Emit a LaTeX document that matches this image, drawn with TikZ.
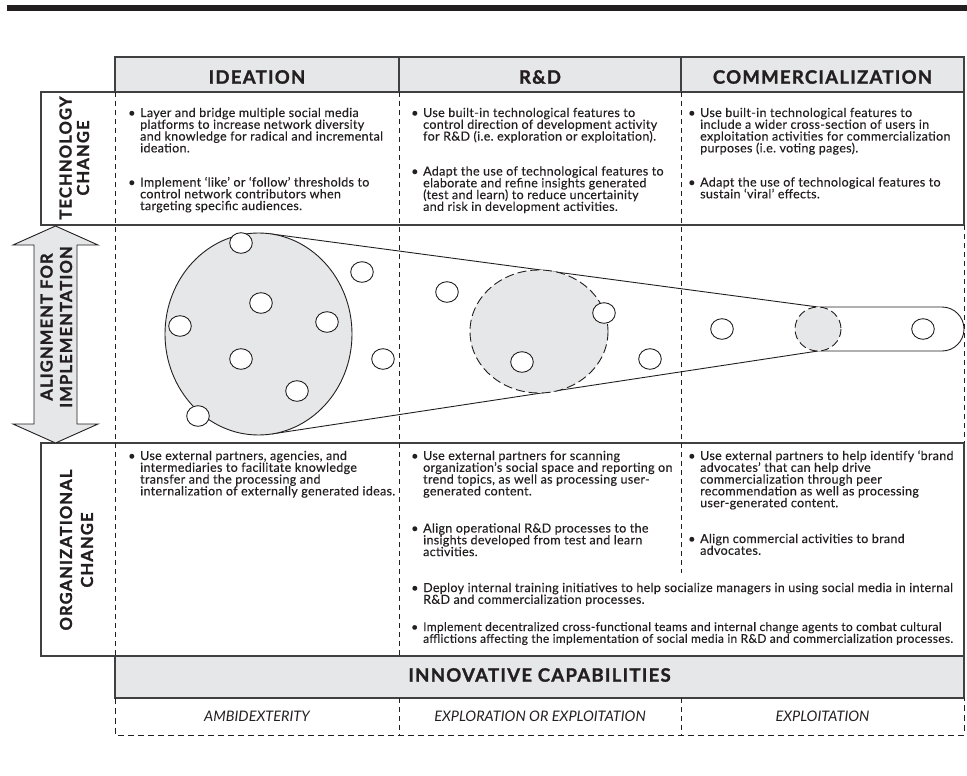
\documentclass[tikz,border=0pt]{standalone}
\usepackage{fontspec}
\setmainfont{Lato}
\newfontfamily\headfont[LetterSpace=7, BoldFeatures={FakeBold=1.4}]{Lato}
\newfontfamily\bodyfam[LetterSpace=2.5, FakeBold=0.3]{Lato}

\definecolor{panel}{HTML}{E6E7E8}
\definecolor{ink}{HTML}{231F20}
\definecolor{rulecol}{HTML}{404040}

% body text: fixed line pitch, lines broken by hand
\newcommand\bodyfont{\bodyfam\fontsize{12.5}{11.8}\selectfont}
\newcommand\linestack[1]{\vtop{\baselineskip=11.8pt\lineskiplimit=-100pt\lineskip=0pt
  \let\\\cr\halign{##\hfil\cr#1\crcr}}}
\newcommand\bitem[1]{\hbox{\hbox to 12pt{\textbullet\hfil}\linestack{#1}}}

\tikzset{
  frame/.style={draw=rulecol, line width=1.3pt},
  dashrule/.style={draw=ink, line width=0.9pt, dash pattern=on 5pt off 4pt},
  thinline/.style={draw=ink, line width=0.9pt},
  txt/.style={anchor=base west, inner sep=0pt, font=\bodyfont, text=ink},
  head/.style={inner sep=0pt, text=ink, font=\headfont\bfseries\fontsize{18.5}{20}\selectfont},
  side/.style={inner sep=0pt, text=ink, align=center, rotate=90},
  captext/.style={inner sep=0pt, text=ink, font=\itshape\fontsize{14.5}{16}\selectfont},
  dot/.style={thinline, fill=white},
}

\begin{document}
\begin{tikzpicture}[x=1pt, y=-1pt]
\useasboundingbox (0,0) rectangle (967,776);

% heavy rule across the top
\fill[ink] (7,5) rectangle (967,11);

% column headers
\draw[frame, fill=panel] (115,57) rectangle (964,92);
\draw[frame] (399,57) -- (399,92) (681,57) -- (681,92);
\node[head] (hideation) at (257,77) {IDEATION};
\node[head] (hrd) at (540,77) {R\&D};
\node[head] (hcomm) at (822.5,77) {COMMERCIALIZATION};

% row frames
\draw[frame] (41,92) rectangle (964,225);
\draw[frame] (41,443) rectangle (964,656);

% dashed column rules
\draw[dashrule] (115,92) -- (115,656);
\draw[dashrule] (399,92) -- (399,656);
\draw[dashrule] (681,92) -- (681,573);
\draw[dashrule] (964,225) -- (964,443);

% capabilities band
\draw[frame, fill=panel] (115,656) rectangle (964,698);
\node[head] (hcap) at (539.5,675) {INNOVATIVE CAPABILITIES};
\draw[dashrule, dash pattern=on 6pt off 4pt] (115,698) -- (115,735) -- (964,735) -- (964,698);
\draw[dashrule] (399,698) -- (399,735) (681,698) -- (681,735);
\node[captext] (amb) at (257,716) {AMBIDEXTERITY};
\node[captext] (eoe) at (540,716) {EXPLORATION OR EXPLOITATION};
\node[captext] (expl) at (822.5,716) {EXPLOITATION};

% row labels
\node[side, font=\headfont\bfseries\fontsize{16.5}{17.5}\selectfont] (ltech) at (74.3,158) {TECHNOLOGY\\CHANGE};
\node[side, font=\headfont\bfseries\fontsize{16.5}{21}\selectfont] (lorg) at (76.5,550) {ORGANIZATIONAL\\CHANGE};

% double-headed alignment arrow
\draw[thinline, fill=panel] (55.5,226) -- (98,245) -- (77,245) -- (77,424) -- (98,424)
  -- (55.5,443) -- (13,424) -- (34,424) -- (34,245) -- (13,245) -- cycle;
\node[side, font=\headfont\bfseries\fontsize{16.5}{19.5}\selectfont] (lalign) at (56.3,327) {ALIGNMENT FOR\\IMPLEMENTATION};

% funnel narrowing from ideation to commercialization
\draw[thinline] (270,233.8) -- (818,307) -- (942,307)
  arc[start angle=-90, end angle=90, radius=22] -- (818,351) -- (271.5,434);
\draw[thinline, fill=panel] (258.5,334) ellipse [x radius=93.5, y radius=101];
\draw[thinline, fill=panel, dash pattern=on 9pt off 4pt] (539,331.5) ellipse [x radius=69, y radius=61.5];
\draw[thinline, fill=panel, dash pattern=on 8pt off 4pt] (818,329) ellipse [x radius=23, y radius=22];

% individual contributors
\foreach \p in {(241,243),(261,303),(180,326),(327,322),(241,359),(297,391),(198,416),
                (362,272),(383,359),(447,292),(604,313),(522,362),(650,359),(722,329),(923,329)}
  \draw[dot] \p ellipse [x radius=11.3, y radius=10.3];

% technology change
\node[txt] (t11) at (128,117) {\bitem{Layer and bridge multiple social media\\
platforms to increase network diversity\\
and knowledge for radical and incremental\\
ideation.}};
\node[txt] (t12) at (128,186.5) {\bitem{Implement ‘like’ or ‘follow’ thresholds to\\
control network contributors when\\
targeting specific audiences.}};
\node[txt] (t21) at (411,117) {\bitem{Use built-in technological features to\\
control direction of development activity\\
for R\&D (i.e.\ exploration or exploitation).}};
\node[txt] (t22) at (411,175.5) {\bitem{Adapt the use of technological features to\\
elaborate and refine insights generated\\
(test and learn) to reduce uncertainity\\
and risk in development activities.}};
\node[txt] (t31) at (688,117) {\bitem{Use built-in technological features to\\
include a wider cross-section of users in\\
exploitation activities for commercialization\\
purposes (i.e.\ voting pages).}};
\node[txt] (t32) at (688,186.5) {\bitem{Adapt the use of technological features to\\
sustain ‘viral’ effects.}};

% organizational change
\node[txt] (o11) at (128,460) {\bitem{Use external partners, agencies, and\\
intermediaries to facilitate knowledge\\
transfer and the processing and\\
internalization of externally generated ideas.}};
\node[txt] (o21) at (411,460) {\bitem{Use external partners for scanning\\
organization’s social space and reporting on\\
trend topics, as well as processing user-\\
generated content.}};
\node[txt] (o22) at (411,532.5) {\bitem{Align operational R\&D processes to the\\
insights developed from test and learn\\
activities.}};
\node[txt] (o31) at (688,460) {\bitem{Use external partners to help identify ‘brand\\
advocates’ that can help drive\\
commercialization through peer\\
recommendation as well as processing\\
user-generated content.}};
\node[txt] (o32) at (688,543) {\bitem{Align commercial activities to brand\\
advocates.}};
\node[txt] (o41) at (411,592) {\bitem{Deploy internal training initiatives to help socialize managers in using social media in internal\\
R\&D and commercialization processes.}};
\node[txt, font=\bodyfam\fontsize{12}{11.8}\selectfont] (o42) at (411,631) {\bitem{Implement decentralized cross-functional teams and internal change agents to combat cultural\\
afflictions affecting the implementation of social media in R\&D and commercialization processes.}};
\end{tikzpicture}
\end{document}
